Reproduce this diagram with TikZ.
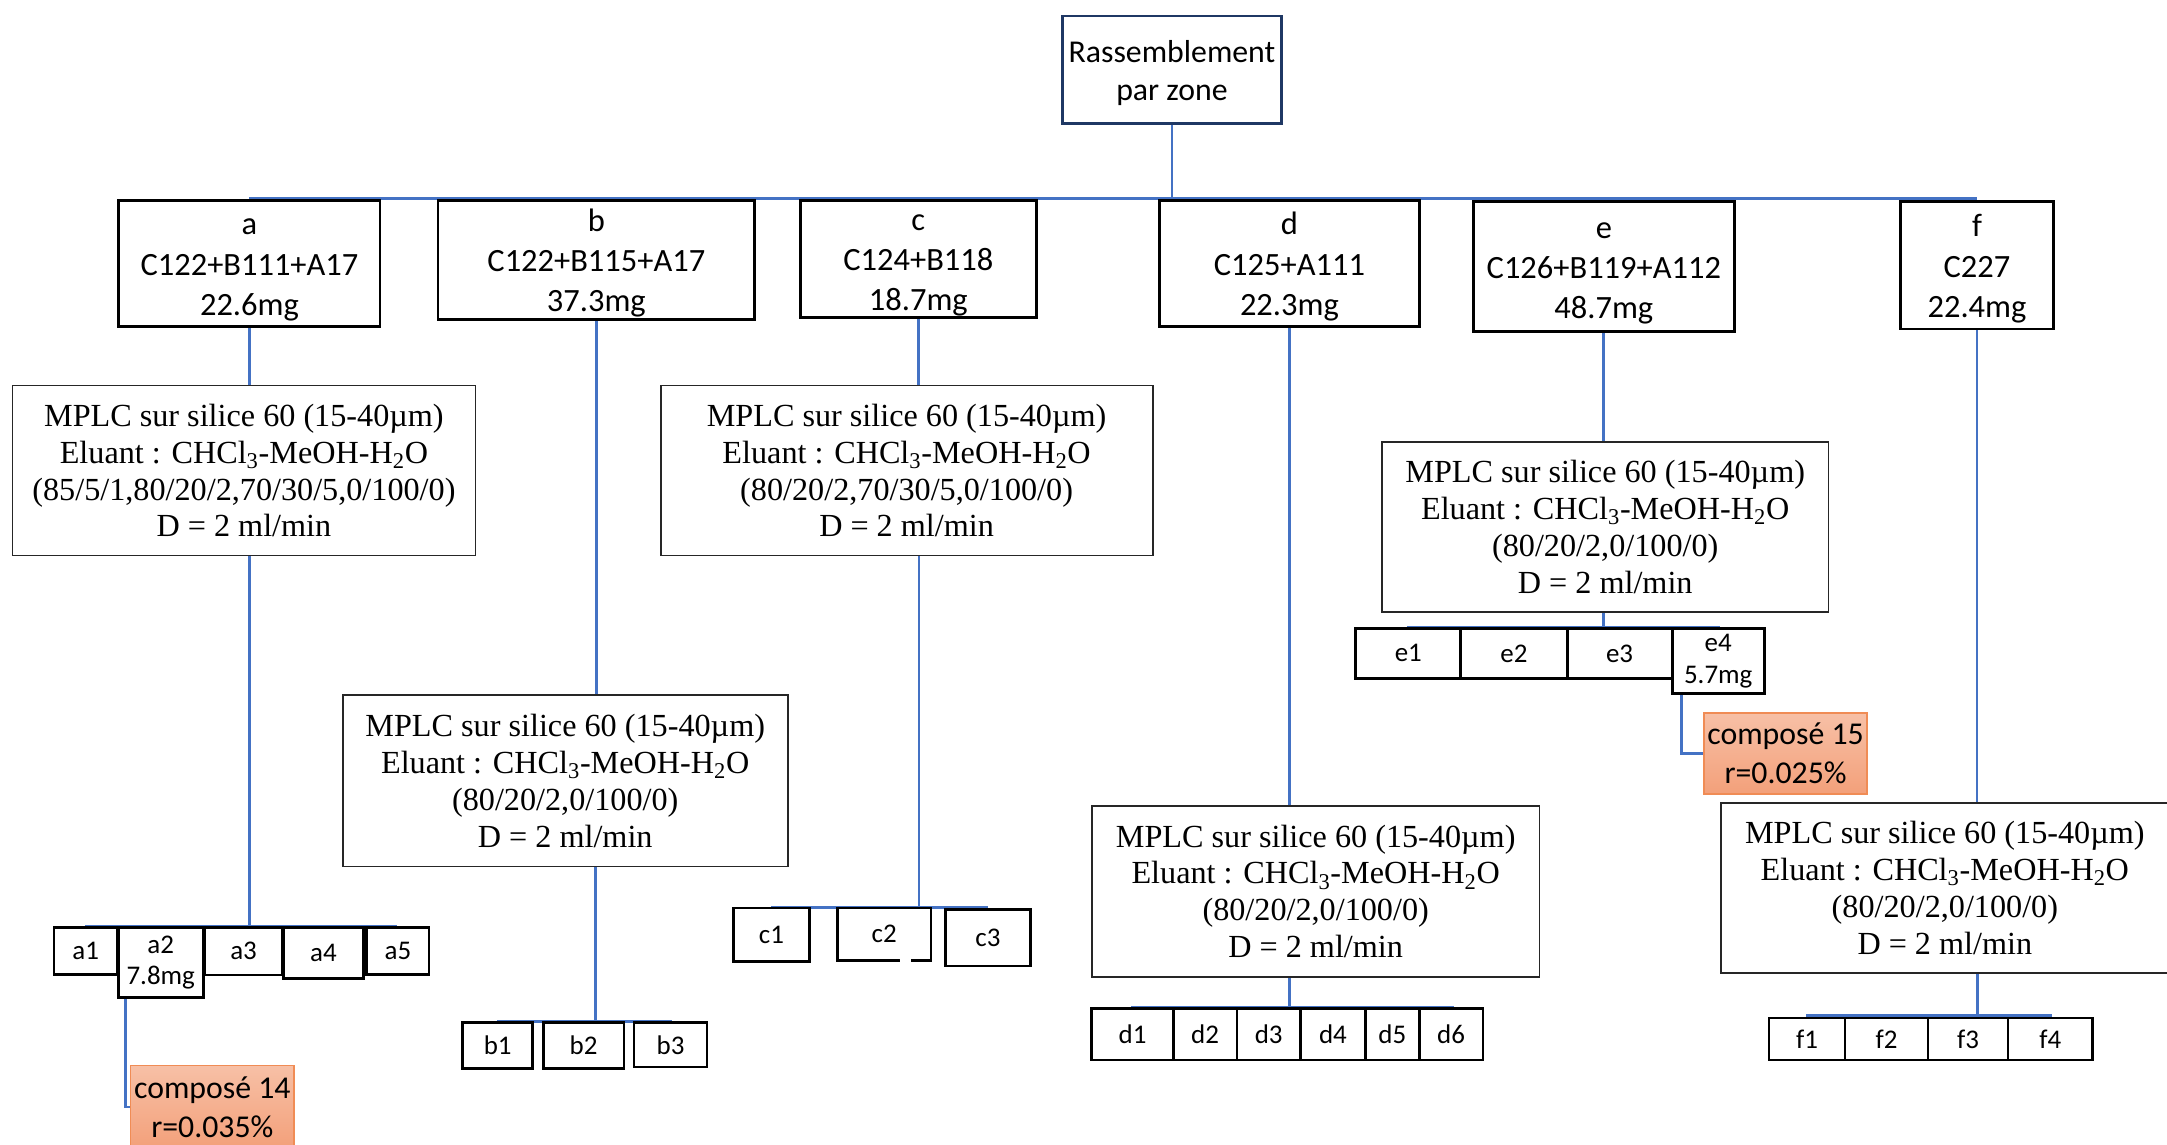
\documentclass[tikz,border=0pt]{standalone}
\usepackage{fontspec}
\setmainfont{Liberation Serif}
\newfontfamily\carl{Carlito}
\usetikzlibrary{backgrounds}
\definecolor{lineblue}{RGB}{68,114,196}
\definecolor{navy}{RGB}{31,56,100}
\definecolor{comptop}{RGB}{247,192,166}
\definecolor{compbot}{RGB}{243,160,122}
\definecolor{compborder}{RGB}{240,140,85}
\newcommand{\topstrut}{\rule{0pt}{21pt}}
\newcommand{\rzstrut}{\rule{0pt}{25pt}}
\begin{document}
\begin{tikzpicture}[x=1pt,y=-1pt,
 sz/.style 2 args={minimum width=#1pt, minimum height=#2pt},
 topbox/.style={draw=black, line width=2pt, fill=white, inner sep=0pt, align=center, font=\carl\fontsize{23.5}{29}\selectfont},
 rzbox/.style={draw=navy, line width=2pt, fill=white, inner sep=0pt, align=center, font=\carl\fontsize{23}{27}\selectfont},
 mplc/.style={draw=black!85, line width=1.3pt, fill=white, inner sep=0pt, align=center, font=\fontsize{23.3}{26.7}\selectfont},
 frac/.style={draw=black, line width=2pt, fill=white, inner sep=0pt, align=center, font=\carl\fontsize{19.5}{23}\selectfont},
 result/.style={draw=compborder, line width=1pt, top color=comptop, bottom color=compbot, inner sep=0pt, align=center, font=\carl\fontsize{23}{28}\selectfont},
 conn/.style={draw=lineblue, line width=2pt}]
\useasboundingbox (0,0) rectangle (1568,828);

% top
\node[rzbox, sz={158}{78}] (rz) at (848,50.5) {\rzstrut Rassemblement\\par zone\strut};

% zones
\node[topbox, sz={189}{91}] (a) at (180.5,190.5) {\topstrut a\\C122+B111+A17\\22.6mg};
\node[topbox, sz={229}{86}] (b) at (431.5,188) {\topstrut b\\C122+B115+A17\\37.3mg};
\node[topbox, sz={171}{85}] (c) at (664.5,187.5) {\topstrut c\\C124+B118\\18.7mg};
\node[topbox, sz={188}{91}] (d) at (933,190.5) {\topstrut d\\C125+A111\\22.3mg};
\node[topbox, sz={189}{94}] (e) at (1160.5,193) {\topstrut e\\C126+B119+A112\\48.7mg};
\node[topbox, sz={111}{92}] (f) at (1430.5,192) {\topstrut f\\C227\\22.4mg};

% MPLC boxes
\node[mplc, sz={335}{123}] (ma) at (176.5,340.5) {MPLC sur silice 60 (15-40µm)\\Eluant : CHCl\textsubscript{3}-MeOH-H\textsubscript{2}O\\(85/5/1,80/20/2,70/30/5,0/100/0)\\D = 2 ml/min};
\node[mplc, sz={322}{124}] (mb) at (409,565) {MPLC sur silice 60 (15-40µm)\\Eluant : CHCl\textsubscript{3}-MeOH-H\textsubscript{2}O\\(80/20/2,0/100/0)\\D = 2 ml/min};
\node[mplc, sz={356}{123}] (mc) at (656,340.5) {MPLC sur silice 60 (15-40µm)\\Eluant : CHCl\textsubscript{3}-MeOH-H\textsubscript{2}O\\(80/20/2,70/30/5,0/100/0)\\D = 2 ml/min};
\node[mplc, sz={324}{124}] (md) at (952,645) {MPLC sur silice 60 (15-40µm)\\Eluant : CHCl\textsubscript{3}-MeOH-H\textsubscript{2}O\\(80/20/2,0/100/0)\\D = 2 ml/min};
\node[mplc, sz={323}{123}] (me) at (1161.5,381.5) {MPLC sur silice 60 (15-40µm)\\Eluant : CHCl\textsubscript{3}-MeOH-H\textsubscript{2}O\\(80/20/2,0/100/0)\\D = 2 ml/min};
\node[mplc, sz={323.5}{123}] (mf) at (1407.25,642.5) {MPLC sur silice 60 (15-40µm)\\Eluant : CHCl\textsubscript{3}-MeOH-H\textsubscript{2}O\\(80/20/2,0/100/0)\\D = 2 ml/min};

% fractions a
\node[frac, sz={46}{34}] (a1) at (62,688) {a1};
\node[frac, sz={61.4}{51}] (a2) at (116.3,696.5) {a2\\7.8mg};
\node[frac, sz={56.5}{34.5}] (a3) at (176.25,688.25) {a3};
\node[frac, sz={58}{37}] (a4) at (234,689.5) {a4};
\node[frac, sz={45}{34}] (a5) at (287.9,688) {a5};
% fractions b
\node[frac, sz={50.7}{33.4}] (b1) at (360.15,756.3) {b1};
\node[frac, sz={58.5}{33.4}] (b2) at (422.25,756.3) {b2};
\node[frac, sz={52.8}{32}] (b3) at (485.2,756) {b3};
% fractions c
\node[frac, sz={55.5}{38.5}] (c1) at (558.25,676.25) {c1};
\node[frac, sz={67.6}{38}] (c2) at (639.8,676) {c2};
\node[frac, sz={61.7}{41}] (c3) at (714.85,678.5) {c3};
\draw[white, line width=3.5pt] ([xshift=46pt]c2.south west) -- ([xshift=54pt]c2.south west);
% fractions d
\node[frac, sz={59}{37.4}] (d1) at (819.5,748.3) {d1};
\node[frac, sz={46}{37.4}] (d2) at (872,748.3) {d2};
\node[frac, sz={46}{37.4}] (d3) at (918,748.3) {d3};
\node[frac, sz={47}{37.4}] (d4) at (964.5,748.3) {d4};
\node[frac, sz={39}{37.4}] (d5) at (1007.5,748.3) {d5};
\node[frac, sz={46}{37.4}] (d6) at (1050,748.3) {d6};
% fractions e
\node[frac, sz={76}{36.5}] (e1) at (1019,472.75) {e1};
\node[frac, sz={76.8}{36.5}] (e2) at (1095.4,472.75) {e2};
\node[frac, sz={75.8}{36.5}] (e3) at (1171.9,472.75) {e3};
\node[frac, sz={66.5}{47.5}] (e4) at (1243.25,478.25) {e4\\5.7mg};
% fractions f
\node[frac, sz={55}{30.4}] (f1) at (1307.5,751.8) {f1};
\node[frac, sz={60}{30.4}] (f2) at (1365,751.8) {f2};
\node[frac, sz={58}{30.4}] (f3) at (1424,751.8) {f3};
\node[frac, sz={61}{30.4}] (f4) at (1483.5,751.8) {f4};

% results
\node[result, sz={118.1}{60}] (c14) at (153.65,801) {composé 14\\r=0.035\%};
\node[result, sz={118}{58.5}] (c15) at (1292,545.25) {composé 15\\r=0.025\%};

% bar coordinates
\coordinate (barL) at (180.5,143.5);
\coordinate (barR) at (1430.5,143.5);
\coordinate (abarL) at (61.5,670);  \coordinate (abarR) at (287,670);  \coordinate (abarM) at (180.5,670);
\coordinate (bbarL) at (359.5,739); \coordinate (bbarR) at (486,739);  \coordinate (bbarM) at (431,739);
\coordinate (cbarL) at (558,656.5); \coordinate (cbarR) at (715,656.5); \coordinate (cbarM) at (665,656.5);
\coordinate (dbarL) at (818.4,729); \coordinate (dbarR) at (1052,729); \coordinate (dbarM) at (933,729);
\coordinate (ebarL) at (1018,453.6); \coordinate (ebarR) at (1244.6,453.6); \coordinate (ebarM) at (1160,453.6);
\coordinate (fbarL) at (1307,735); \coordinate (fbarR) at (1485,735); \coordinate (fbarM) at (1431,735);

\begin{pgfonlayer}{background}
\draw[conn] (rz.south) -- (rz.south |- barL);
\draw[conn] (barL) -- (barR);
\draw[conn] (a.south) -- (a.south |- ma.north);
\draw[conn] (b.south) -- (b.south |- mb.north);
\draw[conn] (c.south) -- (c.south |- mc.north);
\draw[conn] (d.south) -- (d.south |- md.north);
\draw[conn] (e.south) -- (e.south |- me.north);
\draw[conn] (f.south) -- (f.south |- mf.north);
\draw[conn] (abarM |- ma.south) -- (abarM);
\draw[conn] (abarL) -- (abarR);
\draw[conn] (bbarM |- mb.south) -- (bbarM);
\draw[conn] (bbarL) -- (bbarR);
\draw[conn] (cbarM |- mc.south) -- (cbarM);
\draw[conn] (cbarL) -- (cbarR);
\draw[conn] (dbarM |- md.south) -- (dbarM);
\draw[conn] (dbarL) -- (dbarR);
\draw[conn] (ebarM |- me.south) -- (ebarM);
\draw[conn] (ebarL) -- (ebarR);
\draw[conn] (fbarM |- mf.south) -- (fbarM);
\draw[conn] (fbarL) -- (fbarR);
\draw[conn] ([xshift=6.4pt]a2.south west) |- (c14.west);
\draw[conn] ([xshift=7.6pt]e4.south west) |- (c15.west);
\end{pgfonlayer}
\end{tikzpicture}
\end{document}
